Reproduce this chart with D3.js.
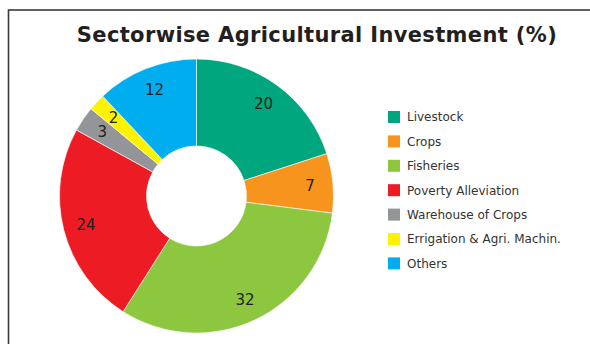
<!DOCTYPE html>
<html>
<head>
<meta charset="utf-8">
<script src="https://cdn.jsdelivr.net/npm/d3@7"></script>
<style>
  html, body { margin: 0; padding: 0; background: #fff; }
  svg { display: block; }
</style>
</head>
<body>
<svg id="chart" width="590" height="344"></svg>
<script>
// Sector shares of agricultural investment, in percent
const sectors = ["Livestock", "Crops", "Fisheries", "Poverty Alleviation",
                 "Warehouse of Crops", "Errigation & Agri. Machin.", "Others"];
const shares = [20, 7, 32, 24, 3, 2, 12];
const sectorColors = ["#00a77e", "#f7941d", "#8dc63f", "#ed1c24", "#939598", "#fff200", "#00aeef"];

const svg = d3.select("#chart");
const W = 590, H = 344;

// outer frame, running off the right and bottom edges
svg.append("rect")
  .attr("x", 8.5).attr("y", 10)
  .attr("width", W + 20).attr("height", H + 20)
  .attr("fill", "none")
  .attr("stroke", "#3a3a3a")
  .attr("stroke-width", 1.6);

// title, spread to span 77..557
const title = svg.append("text")
  .attr("x", 317).attr("y", 41.5)
  .attr("text-anchor", "middle")
  .attr("font-family", "'DejaVu Sans', sans-serif")
  .attr("font-weight", "bold")
  .attr("font-size", 21)
  .attr("fill", "#231f20")
  .text("Sectorwise Agricultural Investment (%)");
{
  const target = 480;
  const len = title.node().getComputedTextLength();
  const n = title.text().length;
  title.attr("letter-spacing", ((target - len) / (n - 1)).toFixed(2) + "px");
}

// donut
const cx = 196.5, cy = 196;
const outerR = 137, innerR = 50, labelR = 114;

const color = d3.scaleOrdinal().domain(sectors).range(sectorColors);
const pie = d3.pie().sort(null).value(d => d.value);
const data = sectors.map((s, i) => ({ name: s, value: shares[i] }));
const arcs = pie(data);

const arc = d3.arc().innerRadius(innerR).outerRadius(outerR);
const labelArc = d3.arc().innerRadius(labelR).outerRadius(labelR);

const g = svg.append("g").attr("transform", `translate(${cx},${cy})`);

g.selectAll("path.slice")
  .data(arcs)
  .join("path")
  .attr("class", "slice")
  .attr("d", arc)
  .attr("fill", d => color(d.data.name))
  .attr("stroke", "#ffffff")
  .attr("stroke-width", 0.6);

g.selectAll("text.value")
  .data(arcs)
  .join("text")
  .attr("class", "value")
  .attr("transform", d => `translate(${labelArc.centroid(d)})`)
  .attr("text-anchor", "middle")
  .attr("dy", "0.36em")
  .attr("font-family", "'DejaVu Sans', sans-serif")
  .attr("font-size", 15)
  .attr("fill", "#231f20")
  .text(d => d.data.value);

// legend
const legend = svg.append("g").attr("transform", "translate(388,111)");
const rowH = 24.4;
const rows = legend.selectAll("g.row")
  .data(sectors)
  .join("g")
  .attr("class", "row")
  .attr("transform", (d, i) => `translate(0,${i * rowH})`);

rows.append("rect")
  .attr("width", 12).attr("height", 12)
  .attr("fill", d => color(d));

rows.append("text")
  .attr("x", 19).attr("y", 6)
  .attr("dy", "0.36em")
  .attr("font-family", "'DejaVu Sans', sans-serif")
  .attr("font-size", 12)
  .attr("fill", "#333333")
  .text(d => d);
</script>
</body>
</html>
